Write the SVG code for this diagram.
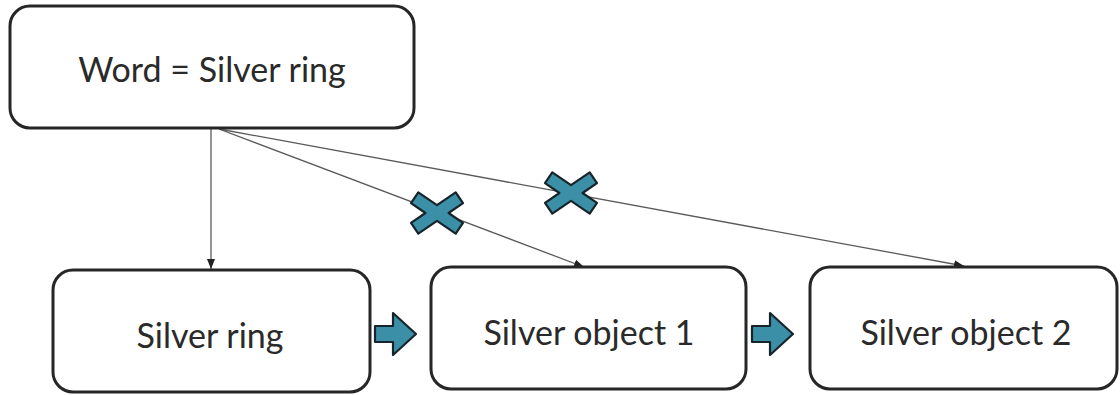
<svg xmlns="http://www.w3.org/2000/svg" width="1120" height="395" viewBox="0 0 1120 395">
<defs>
<style>
.box{fill:#fff;stroke:#262626;stroke-width:3}
.lbl{font-family:"Gill Sans","Lato","Liberation Sans",sans-serif;font-size:34px;fill:#2a2a2a;text-anchor:middle}
.con{stroke:#5a5a5a;stroke-width:1.3;fill:none}
.teal{fill:#3b8fa7;stroke:#17242a;stroke-width:2.2;stroke-linejoin:round}
</style>
<marker id="ah" markerUnits="userSpaceOnUse" markerWidth="10" markerHeight="10" viewBox="0 0 10 10" refX="10" refY="5" orient="auto">
<path d="M0,1 L10,5 L0,9 Z" fill="#222"/>
</marker>
<polygon id="xmark" points="0,-7.85 18.71,-20.55 26.01,-9.79 11.57,0 26.01,9.79 18.71,20.55 0,7.85 -18.71,20.55 -26.01,9.79 -11.57,0 -26.01,-9.79 -18.71,-20.55"/>
<polygon id="barrow" points="0,-8 18,-8 18,-21 41,0 18,21 18,8 0,8"/>
</defs>
<rect width="1120" height="395" fill="#fff"/>
<g id="connectors">
<line class="con" x1="211" y1="129" x2="211" y2="269" marker-end="url(#ah)"/>
<line class="con" x1="219" y1="129" x2="584" y2="267" marker-end="url(#ah)"/>
<line class="con" x1="219" y1="129" x2="964" y2="266" marker-end="url(#ah)"/>
<use href="#xmark" class="teal" x="437" y="213"/>
<use href="#xmark" class="teal" x="571" y="193"/>
<use href="#barrow" class="teal" x="375" y="334"/>
<use href="#barrow" class="teal" x="752" y="334"/>
</g>
<g id="word">
<rect class="box" x="10" y="6" width="404" height="122" rx="20"/>
<text class="lbl" x="212" y="82">Word = Silver ring</text>
</g>
<g id="silver-ring">
<rect class="box" x="53" y="270" width="317" height="122" rx="20"/>
<text class="lbl" x="210" y="348">Silver ring</text>
</g>
<g id="silver-object-1">
<rect class="box" x="431" y="267" width="315" height="122" rx="20"/>
<text class="lbl" x="589" y="345">Silver object 1</text>
</g>
<g id="silver-object-2">
<rect class="box" x="810" y="267" width="307" height="122" rx="20"/>
<text class="lbl" x="966" y="345">Silver object 2</text>
</g>
</svg>
